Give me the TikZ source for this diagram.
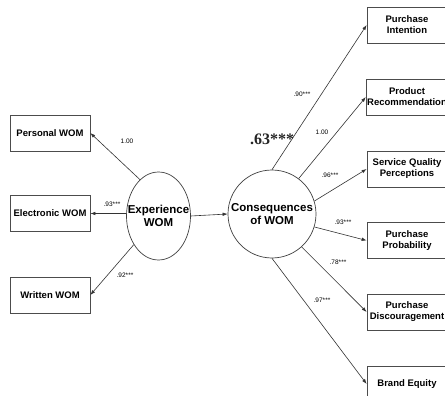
\documentclass[tikz,border=0pt]{standalone}
\usepackage{fontspec}
\setmainfont{Liberation Sans}
\newfontfamily\serifbig{Liberation Serif}
\usetikzlibrary{arrows.meta,shapes.geometric}
\begin{document}
\begin{tikzpicture}[x=1pt,y=-1pt,
  box/.style={draw=black!70,line width=0.7pt,minimum width=80pt,minimum height=36pt,inner sep=1pt,align=center,font=\fontsize{9.5}{11}\selectfont\bfseries},
  latent/.style={draw=black!75,line width=0.7pt,align=center,inner sep=0pt,font=\fontsize{11.5}{13}\selectfont\bfseries},
  conn/.style={draw=black!80,line width=0.6pt,-{Latex[length=5pt,width=3.5pt]}},
  lbl/.style={font=\fontsize{6.5}{7}\selectfont,inner sep=0pt}]
\useasboundingbox (0,0) rectangle (445,396);
\fill[white] (0,0) rectangle (445,396);
% left boxes
\node[box] (pw) at (50,133) {Personal WOM};
\node[box] (ew) at (50,213.5) {Electronic WOM};
\node[box] (ww) at (50,295) {Written WOM};
% latent variables
\node[latent,ellipse,inner xsep=-14pt,minimum width=64pt,minimum height=88pt] (exp) at (158.5,216) {Experience\\WOM};
\node[latent,circle,minimum size=88pt] (cons) at (272,214) {Consequences\\of WOM};
% right boxes
\node[box] (pi) at (407,25) {Purchase\\Intention};
\node[box] (pr) at (407,97) {Product\\Recommendation};
\node[box] (sq) at (407,169) {Service Quality\\Perceptions};
\node[box] (pp) at (407,240.5) {Purchase\\Probability};
\node[box] (pd) at (407,312) {Purchase\\Discouragement};
\node[box] (be) at (407,384) {Brand Equity};
% connectors
\draw[conn] (exp.117) -- (pw.east);
\draw[conn] (exp.west |- ew.east) -- (ew.east);
\draw[conn] (exp) -- (ww.east);
\draw[conn] (exp.east) -- (cons.west);
\draw[conn] (cons.90) -- (pi.west);
\draw[conn] (cons.53) -- (pr.west);
\draw[conn] (cons.17) -- (sq.west);
\draw[conn] (cons.-17) -- (pp.west);
\draw[conn] (cons.-48) -- (pd.west);
\draw[conn] (cons.-90) -- (be.west);
% labels
\node[lbl] (l1) at (127,141) {1.00};
\node[lbl] (l2) at (112,204) {.93***};
\node[lbl] (l3) at (125,275) {.92***};
\node[lbl] (l4) at (302,94) {.90***};
\node[lbl] (l5) at (322,132) {1.00};
\node[lbl] (l6) at (330,175) {.96***};
\node[lbl] (l7) at (343,222) {.93***};
\node[lbl] (l8) at (338,262) {.78***};
\node[lbl] (l9) at (322,300) {.97***};
\node[inner sep=0pt,font=\serifbig\fontsize{16}{18}\selectfont\bfseries,text=black!85] (big) at (272,139) {.63***};
\end{tikzpicture}
\end{document}
